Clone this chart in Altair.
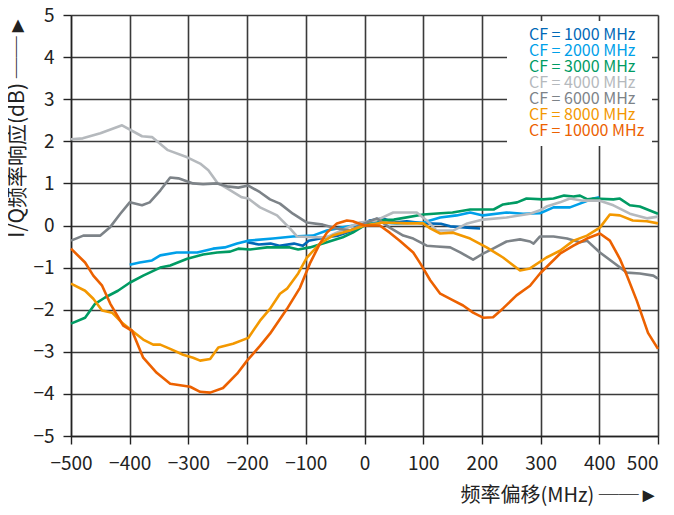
import altair as alt
import pandas as pd

series_names = ["CF = 1000 MHz", "CF = 2000 MHz", "CF = 3000 MHz", "CF = 4000 MHz",
                "CF = 6000 MHz", "CF = 8000 MHz", "CF = 10000 MHz"]
series_colors = ["#0068b7", "#00a0e9", "#009b63", "#b5b9bd", "#7d8388", "#f39800", "#ec6100"]

x_1000 = [-200, -180, -160, -145, -120, -105, -95, -65, -45, -20, 0, 9, 32, 49, 72, 100, 130, 146, 175, 197]
y_1000 = [-0.40, -0.45, -0.43, -0.48, -0.43, -0.48, -0.36, -0.28, -0.24, -0.12, 0.05, 0.12, 0.17, 0.07, 0.10, 0.05, 0.04, -0.02, -0.05, -0.07]

x_2000 = [-400, -383, -362, -348, -320, -285, -258, -238, -217, -198, -156, -122, -88, -64, -40, -10, 20, 55, 100, 129, 157, 180, 202, 242, 270, 299, 322, 350, 367, 390, 400]
y_2000 = [-0.93, -0.88, -0.83, -0.71, -0.64, -0.64, -0.55, -0.52, -0.43, -0.36, -0.31, -0.26, -0.24, -0.12, -0.05, 0.02, 0.08, 0.05, 0.07, 0.19, 0.24, 0.31, 0.24, 0.31, 0.28, 0.29, 0.43, 0.43, 0.52, 0.64, 0.67]

x_3000 = [-500, -476, -459, -442, -420, -400, -377, -348, -331, -302, -275, -251, -229, -215, -195, -166, -127, -113, -93, -64, -37, -20, 0, 15, 50, 100, 130, 150, 180, 220, 236, 260, 276, 304, 322, 340, 356, 367, 380, 390, 424, 435, 452, 469, 500]
y_3000 = [-2.33, -2.19, -1.86, -1.71, -1.55, -1.36, -1.19, -1.00, -0.95, -0.79, -0.69, -0.64, -0.62, -0.55, -0.57, -0.52, -0.52, -0.57, -0.52, -0.40, -0.28, -0.17, 0.00, 0.12, 0.14, 0.26, 0.29, 0.31, 0.38, 0.38, 0.50, 0.55, 0.64, 0.62, 0.64, 0.71, 0.69, 0.71, 0.62, 0.64, 0.62, 0.64, 0.48, 0.45, 0.28]

x_4000 = [-500, -480, -450, -413, -379, -362, -335, -302, -280, -266, -251, -234, -209, -198, -178, -149, -127, -115, -88, -64, -40, -8, 20, 49, 89, 106, 123, 151, 175, 202, 242, 282, 299, 310, 333, 350, 372, 401, 424, 452, 481, 500]
y_4000 = [2.05, 2.07, 2.19, 2.38, 2.12, 2.10, 1.79, 1.62, 1.47, 1.31, 1.02, 0.88, 0.67, 0.64, 0.43, 0.24, -0.07, -0.26, -0.28, -0.28, -0.12, 0.07, 0.12, 0.31, 0.31, 0.12, -0.12, -0.12, 0.05, 0.14, 0.19, 0.28, 0.36, 0.45, 0.55, 0.64, 0.59, 0.59, 0.48, 0.28, 0.17, 0.21]

x_6000 = [-500, -479, -450, -434, -416, -400, -379, -366, -348, -331, -317, -292, -275, -251, -234, -215, -198, -178, -161, -144, -122, -98, -71, -47, -25, 0, 21, 43, 66, 83, 106, 123, 146, 163, 185, 202, 219, 242, 265, 282, 288, 299, 322, 345, 367, 379, 401, 424, 447, 469, 492, 500]
y_6000 = [-0.36, -0.24, -0.24, -0.05, 0.28, 0.55, 0.48, 0.55, 0.83, 1.14, 1.12, 1.00, 0.98, 1.00, 0.93, 0.90, 0.95, 0.79, 0.62, 0.52, 0.28, 0.07, 0.02, -0.07, -0.12, 0.05, 0.17, -0.05, -0.24, -0.31, -0.48, -0.50, -0.52, -0.64, -0.81, -0.67, -0.55, -0.38, -0.33, -0.38, -0.43, -0.26, -0.26, -0.31, -0.40, -0.36, -0.64, -0.88, -1.12, -1.14, -1.19, -1.26]

x_8000 = [-500, -476, -462, -447, -430, -413, -396, -377, -360, -348, -331, -309, -292, -280, -263, -249, -224, -198, -178, -161, -144, -132, -113, -98, -76, -54, -25, 0, 32, 72, 100, 112, 129, 151, 180, 208, 236, 265, 282, 310, 333, 356, 379, 401, 418, 435, 457, 481, 500]
y_8000 = [-1.38, -1.55, -1.74, -2.02, -2.07, -2.31, -2.50, -2.71, -2.83, -2.83, -2.93, -3.07, -3.14, -3.21, -3.17, -2.90, -2.81, -2.67, -2.26, -1.98, -1.62, -1.50, -1.14, -0.76, -0.43, -0.24, -0.12, 0.00, 0.07, 0.05, 0.05, -0.07, -0.19, -0.17, -0.31, -0.52, -0.76, -1.07, -1.02, -0.76, -0.60, -0.36, -0.24, -0.05, 0.26, 0.24, 0.12, 0.10, 0.05]

x_10000 = [-500, -476, -462, -447, -433, -411, -396, -377, -354, -331, -297, -280, -263, -241, -217, -200, -178, -161, -132, -110, -93, -76, -64, -47, -30, -20, 0, 26, 43, 60, 83, 95, 112, 129, 151, 168, 185, 202, 219, 236, 259, 282, 299, 333, 356, 379, 401, 418, 435, 447, 464, 483, 500]
y_10000 = [-0.55, -0.88, -1.19, -1.43, -1.86, -2.38, -2.50, -3.14, -3.50, -3.76, -3.83, -3.95, -3.97, -3.86, -3.52, -3.21, -2.86, -2.57, -1.98, -1.48, -0.90, -0.43, -0.17, 0.05, 0.12, 0.10, 0.00, 0.00, -0.17, -0.36, -0.64, -0.90, -1.30, -1.62, -1.78, -1.90, -2.07, -2.19, -2.18, -1.97, -1.66, -1.43, -1.14, -0.67, -0.48, -0.31, -0.19, -0.36, -0.79, -1.19, -1.79, -2.55, -2.93]

all_x = [x_1000, x_2000, x_3000, x_4000, x_6000, x_8000, x_10000]
all_y = [y_1000, y_2000, y_3000, y_4000, y_6000, y_8000, y_10000]

rows = []
for name, xs, ys in zip(series_names, all_x, all_y):
    for i, (xv, yv) in enumerate(zip(xs, ys)):
        rows.append({"series": name, "offset": xv, "resp": yv, "order": i})
df = pd.DataFrame(rows)

x_ticks = list(range(-500, 501, 100))
y_ticks = list(range(-5, 6, 1))
FONT = "Noto Sans CJK SC"

chart = alt.Chart(df).mark_line(strokeWidth=2.6, strokeJoin="round").encode(
    x=alt.X("offset:Q",
            scale=alt.Scale(domain=[-500, 500], nice=False, zero=False),
            axis=alt.Axis(values=x_ticks, title="频率偏移(MHz) ──►", titleAnchor="end",
                          titlePadding=12, labelPadding=10, labelOverlap=False,
                          labelFlush=False,
                          labelAlign=alt.ExprRef("datum.value >= 500 ? 'right' : 'center'"))),
    y=alt.Y("resp:Q",
            scale=alt.Scale(domain=[-5, 5], nice=False),
            axis=alt.Axis(values=y_ticks, title="I/Q频率响应(dB) ──►", titleAnchor="end",
                          titlePadding=5, labelPadding=9, labelOverlap=False,
                          labelFlush=False, titleFontSize=21)),
    color=alt.Color("series:N",
                    scale=alt.Scale(domain=series_names, range=series_colors),
                    legend=alt.Legend(title=None, orient="none", legendX=436, legendY=6,
                                      symbolSize=0, symbolStrokeWidth=0, symbolOpacity=0,
                                      labelOffset=0, rowPadding=-1.7, padding=6,
                                      fillColor="white", strokeColor="white",
                                      labelFontSize=16, labelFont=FONT,
                                      labelColor=alt.ExprRef("scale('color', datum.value)"))),
    order=alt.Order("order:Q"),
).properties(
    width=587, height=421,
    autosize=alt.AutoSizeParams(type="none"),
    padding={"left": 63, "top": 7, "right": 8, "bottom": 71},
).configure_axis(
    grid=True, gridColor="#3a3a3a", gridWidth=1.6, gridOpacity=1,
    domainColor="#222222", domainWidth=1.4,
    tickColor="#222222", tickWidth=1.4, tickSize=8,
    labelFont=FONT, labelFontSize=19, labelColor="#222222",
    titleFont=FONT, titleFontSize=20, titleFontWeight="normal", titleColor="#222222",
).configure_view(stroke=None)

chart.save("out.html", embed_options={"renderer": "svg", "actions": False})
